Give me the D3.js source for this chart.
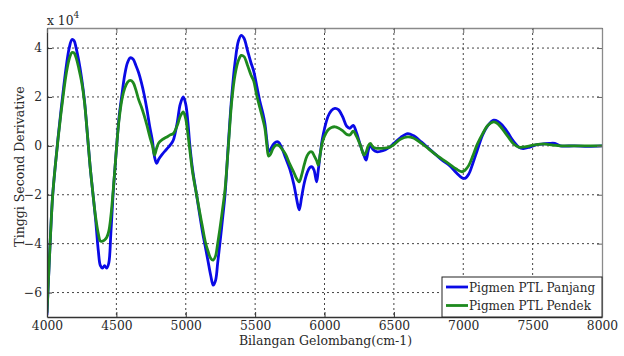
<!DOCTYPE html>
<html>
<head>
<meta charset="utf-8">
<script src="https://cdn.jsdelivr.net/npm/d3@7"></script>
<style>
  html, body { margin: 0; padding: 0; background: #ffffff; }
  svg { display: block; }
  text { font-family: "DejaVu Serif", "Liberation Serif", serif; fill: #2a2a2a; }
</style>
</head>
<body>
<svg id="chart" width="624" height="356"></svg>
<script>
// ---- data (values in units of 10^4) ----
const wavenumber = [4000,4020,4040,4060,4080,4100,4120,4140,4160,4180,4195,4210,4230,4250,4270,4290,4310,4330,4350,4370,4385,4400,4415,4430,4445,4460,4476,4490,4505,4520,4540,4560,4580,4600,4620,4640,4660,4680,4700,4720,4740,4760,4775,4790,4805,4830,4860,4890,4910,4940,4960,4982,5000,5015,5030,5050,5078,5100,5120,5140,5160,5180,5198,5215,5230,5246,5265,5283,5306,5331,5355,5380,5400,5420,5445,5470,5490,5510,5535,5555,5571,5585,5597,5610,5630,5650,5667,5690,5720,5750,5780,5800,5818,5835,5855,5875,5895,5910,5925,5943,5955,5970,5985,6000,6025,6050,6075,6100,6130,6160,6183,6207,6230,6260,6285,6300,6315,6330,6350,6375,6420,6470,6500,6550,6600,6640,6700,6750,6800,6850,6900,6950,6990,7012,7040,7070,7100,7140,7180,7220,7250,7280,7320,7360,7400,7432,7480,7530,7580,7620,7660,7700,7800,7900,8000];
const pigmenPanjang = [-6.9,-4.3,-2.1,-0.8,0.35,1.4,2.4,3.3,4.0,4.35,4.3,4.0,3.45,2.75,1.85,0.55,-0.8,-1.9,-3.0,-4.3,-4.9,-5.0,-4.9,-5.0,-4.8,-3.6,-2.0,-0.9,0.2,1.2,2.1,2.9,3.4,3.6,3.55,3.3,3.0,2.6,2.1,1.5,0.8,0.2,-0.45,-0.72,-0.55,-0.35,-0.15,0.05,0.23,1.0,1.7,2.0,1.7,1.0,0.0,-1.0,-2.0,-2.8,-3.5,-4.1,-4.7,-5.3,-5.7,-5.5,-4.8,-4.0,-3.0,-2.0,0.0,2.0,3.4,4.3,4.52,4.4,3.9,3.4,3.05,2.5,1.8,1.35,0.9,0.2,-0.24,-0.15,0.05,0.16,0.16,-0.05,-0.5,-0.95,-1.6,-2.2,-2.62,-2.1,-1.5,-1.1,-0.88,-0.86,-1.0,-1.47,-1.0,-0.3,0.3,0.7,1.2,1.45,1.53,1.48,1.2,0.8,0.72,0.84,0.55,0.0,-0.4,-0.58,-0.2,0.03,-0.15,-0.24,-0.2,-0.05,0.1,0.35,0.5,0.42,0.15,-0.1,-0.35,-0.6,-0.8,-1.1,-1.3,-1.33,-1.15,-0.7,-0.2,0.45,0.85,1.05,1.0,0.85,0.55,0.2,-0.05,-0.11,-0.05,0.05,0.08,0.1,0.1,0.0,0.0,-0.02,0.0];
const pigmenPendek = [-6.8,-4.3,-2.1,-0.8,0.3,1.3,2.2,3.0,3.55,3.82,3.8,3.6,3.15,2.6,1.8,0.55,-0.8,-1.9,-2.9,-3.6,-3.9,-3.9,-3.85,-3.75,-3.5,-2.9,-1.9,-0.9,0.2,1.1,1.9,2.35,2.6,2.68,2.6,2.3,1.9,1.6,1.25,0.85,0.4,0.0,-0.38,-0.1,0.12,0.25,0.35,0.45,0.5,0.85,1.2,1.39,1.1,0.5,-0.2,-1.1,-2.0,-2.7,-3.3,-3.9,-4.3,-4.6,-4.67,-4.5,-4.0,-3.4,-2.6,-1.8,-0.1,1.8,2.9,3.5,3.7,3.65,3.3,2.9,2.65,2.1,1.54,1.1,0.7,0.0,-0.42,-0.35,-0.1,0.02,0.03,-0.1,-0.35,-0.75,-1.1,-1.35,-1.47,-1.2,-0.75,-0.4,-0.25,-0.25,-0.4,-0.6,-0.79,-0.3,0.15,0.4,0.65,0.75,0.78,0.73,0.62,0.47,0.45,0.6,0.4,0.0,-0.38,-0.25,0.0,0.1,-0.05,-0.1,-0.1,-0.05,0.05,0.28,0.37,0.32,0.1,-0.12,-0.35,-0.55,-0.75,-0.95,-1.06,-1.0,-0.8,-0.4,0.05,0.5,0.85,0.98,0.9,0.7,0.4,0.1,-0.05,-0.05,0.0,0.05,0.08,0.05,0.02,0.0,0.0,0.0,0.0];
const xTicks = [4000,4500,5000,5500,6000,6500,7000,7500,8000];
const yTicks = [-6,-4,-2,0,2,4];
const seriesNames = ["Pigmen PTL Panjang","Pigmen PTL Pendek"];
const seriesColors = ["#0a0ae6","#1e8a1e"];

// ---- layout ----
const L = 47, T = 28, R = 602, B = 317;
const svg = d3.select("#chart");
svg.append("rect").attr("width",624).attr("height",356).attr("fill","#ffffff");

const x = d3.scaleLinear().domain([4000,8000]).range([L,R]);
const y = d3.scaleLinear().domain([-7,4.82]).range([B,T]);

svg.append("rect").attr("x",L).attr("y",T).attr("width",R-L).attr("height",B-T).attr("fill","#fff");

// grid
const grid = svg.append("g");
grid.selectAll(".gx").data(xTicks.slice(1,-1)).join("line")
  .attr("x1",d=>x(d)).attr("x2",d=>x(d)).attr("y1",T).attr("y2",B)
  .attr("stroke","#444").attr("stroke-width",1).attr("stroke-dasharray","2,3");
grid.selectAll(".gy").data(yTicks).join("line")
  .attr("x1",L).attr("x2",R).attr("y1",d=>y(d)).attr("y2",d=>y(d))
  .attr("stroke","#444").attr("stroke-width",1).attr("stroke-dasharray","2,3");

svg.append("clipPath").attr("id","clip").append("rect")
  .attr("x",L).attr("y",T).attr("width",R-L).attr("height",B-T);

const line = d3.line().curve(d3.curveCatmullRom.alpha(0.5))
  .x(d=>x(d[0])).y(d=>y(d[1]));
const lines = svg.append("g").attr("clip-path","url(#clip)");
[pigmenPanjang, pigmenPendek].forEach((vals,i)=>{
  lines.append("path")
    .attr("d", line(wavenumber.map((w,j)=>[w, vals[j]])))
    .attr("fill","none").attr("stroke",seriesColors[i])
    .attr("stroke-width",2.8).attr("stroke-linejoin","round").attr("stroke-linecap","round");
});

// axes (inward ticks)
const xAxis = svg.append("g").attr("transform",`translate(0,${B})`)
  .call(d3.axisBottom(x).tickValues(xTicks).tickFormat(d3.format("d")).tickSizeInner(-5).tickSizeOuter(0).tickPadding(4));
const yAxis = svg.append("g").attr("transform",`translate(${L},0)`)
  .call(d3.axisLeft(y).tickValues(yTicks).tickFormat(d3.format("d")).tickSizeInner(-5).tickSizeOuter(0).tickPadding(5));
const xTop = svg.append("g").attr("transform",`translate(0,${T})`)
  .call(d3.axisTop(x).tickValues(xTicks).tickFormat("").tickSizeInner(-5).tickSizeOuter(0));
const yRight = svg.append("g").attr("transform",`translate(${R},0)`)
  .call(d3.axisRight(y).tickValues(yTicks).tickFormat("").tickSizeInner(-5).tickSizeOuter(0));
[xAxis,yAxis].forEach(g=>{
  g.select(".domain").attr("stroke","#333").attr("stroke-width",1.3);
  g.selectAll(".tick line").attr("stroke","#333");
  g.selectAll("text").attr("font-family","DejaVu Serif").attr("font-size",12.3).attr("fill","#2a2a2a");
});
[xTop,yRight].forEach(g=>{
  g.select(".domain").attr("stroke","#8a8a8a").attr("stroke-width",1.3);
  g.selectAll(".tick line").attr("stroke","#666");
});

// exponent label
const ex = svg.append("text").attr("x",47).attr("y",25).attr("font-size",12.3);
ex.append("tspan").text("x 10");
ex.append("tspan").attr("dy",-7).attr("font-size",9).text("4");

// axis titles
svg.append("text").attr("x",(L+R)/2+1).attr("y",345).attr("text-anchor","middle")
  .attr("font-size",12.5).text("Bilangan Gelombang(cm-1)");
svg.append("text").attr("transform",`translate(24,${(T+B)/2-6}) rotate(-90)`)
  .attr("text-anchor","middle").attr("font-size",12.5).text("Tinggi Second Derivative");

// legend
const lg = svg.append("g");
lg.append("rect").attr("x",442).attr("y",277).attr("width",R-442).attr("height",B-277)
  .attr("fill","#fff").attr("stroke","#222").attr("stroke-width",1);
seriesNames.forEach((n,i)=>{
  const yy = 287 + i*18.5;
  lg.append("line").attr("x1",446).attr("x2",468).attr("y1",yy).attr("y2",yy)
    .attr("stroke",seriesColors[i]).attr("stroke-width",2.8);
  lg.append("text").attr("x",469).attr("y",yy+4.5).attr("font-size",12).attr("fill","#222").text(n);
});
</script>
</body>
</html>
